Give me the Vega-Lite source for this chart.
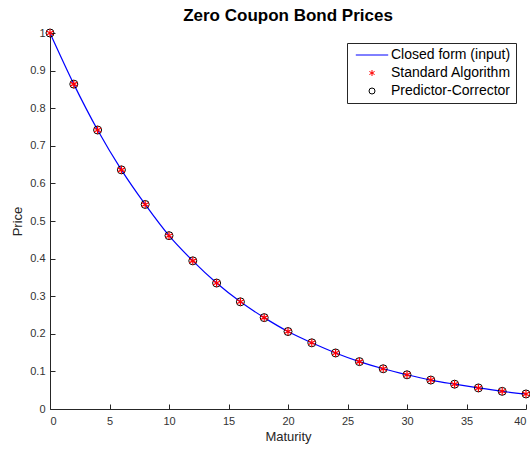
{
  "$schema": "https://vega.github.io/schema/vega-lite/v6.json",
  "autosize": "none",
  "width": 476,
  "height": 376,
  "padding": {"left": 50, "top": 33, "right": 4, "bottom": 41},
  "background": "white",
  "config": {
    "font": "Liberation Sans",
    "view": {"stroke": null},
    "legend": {"symbolFillColor": "transparent"},
    "axis": {
      "domainColor": "#262626",
      "tickColor": "#262626",
      "labelColor": "#333333",
      "titleColor": "#262626",
      "labelFontSize": 11,
      "titleFontSize": 13,
      "titleFontWeight": "normal",
      "grid": false,
      "tickSize": -5,
      "domainWidth": 1
    }
  },
  "title": {
    "text": "Zero Coupon Bond Prices",
    "fontSize": 17,
    "fontWeight": "bold",
    "color": "#000000",
    "anchor": "middle",
    "frame": "group",
    "baseline": "alphabetic",
    "offset": 10,
    "dy": 21
  },
  "data": {
    "values": [
      {"maturity": 0, "price": 1.000, "method": "Closed form (input)"},
      {"maturity": 2, "price": 0.864, "method": "Closed form (input)"},
      {"maturity": 4, "price": 0.742, "method": "Closed form (input)"},
      {"maturity": 6, "price": 0.636, "method": "Closed form (input)"},
      {"maturity": 8, "price": 0.544, "method": "Closed form (input)"},
      {"maturity": 10, "price": 0.461, "method": "Closed form (input)"},
      {"maturity": 12, "price": 0.394, "method": "Closed form (input)"},
      {"maturity": 14, "price": 0.335, "method": "Closed form (input)"},
      {"maturity": 16, "price": 0.285, "method": "Closed form (input)"},
      {"maturity": 18, "price": 0.243, "method": "Closed form (input)"},
      {"maturity": 20, "price": 0.206, "method": "Closed form (input)"},
      {"maturity": 22, "price": 0.176, "method": "Closed form (input)"},
      {"maturity": 24, "price": 0.149, "method": "Closed form (input)"},
      {"maturity": 26, "price": 0.126, "method": "Closed form (input)"},
      {"maturity": 28, "price": 0.107, "method": "Closed form (input)"},
      {"maturity": 30, "price": 0.091, "method": "Closed form (input)"},
      {"maturity": 32, "price": 0.077, "method": "Closed form (input)"},
      {"maturity": 34, "price": 0.066, "method": "Closed form (input)"},
      {"maturity": 36, "price": 0.056, "method": "Closed form (input)"},
      {"maturity": 38, "price": 0.047, "method": "Closed form (input)"},
      {"maturity": 40, "price": 0.040, "method": "Closed form (input)"},
      {"maturity": 0, "price": 1.000, "method": "Standard Algorithm"},
      {"maturity": 2, "price": 0.864, "method": "Standard Algorithm"},
      {"maturity": 4, "price": 0.742, "method": "Standard Algorithm"},
      {"maturity": 6, "price": 0.636, "method": "Standard Algorithm"},
      {"maturity": 8, "price": 0.544, "method": "Standard Algorithm"},
      {"maturity": 10, "price": 0.461, "method": "Standard Algorithm"},
      {"maturity": 12, "price": 0.394, "method": "Standard Algorithm"},
      {"maturity": 14, "price": 0.335, "method": "Standard Algorithm"},
      {"maturity": 16, "price": 0.285, "method": "Standard Algorithm"},
      {"maturity": 18, "price": 0.243, "method": "Standard Algorithm"},
      {"maturity": 20, "price": 0.206, "method": "Standard Algorithm"},
      {"maturity": 22, "price": 0.176, "method": "Standard Algorithm"},
      {"maturity": 24, "price": 0.149, "method": "Standard Algorithm"},
      {"maturity": 26, "price": 0.126, "method": "Standard Algorithm"},
      {"maturity": 28, "price": 0.107, "method": "Standard Algorithm"},
      {"maturity": 30, "price": 0.091, "method": "Standard Algorithm"},
      {"maturity": 32, "price": 0.077, "method": "Standard Algorithm"},
      {"maturity": 34, "price": 0.066, "method": "Standard Algorithm"},
      {"maturity": 36, "price": 0.056, "method": "Standard Algorithm"},
      {"maturity": 38, "price": 0.047, "method": "Standard Algorithm"},
      {"maturity": 40, "price": 0.040, "method": "Standard Algorithm"},
      {"maturity": 0, "price": 1.000, "method": "Predictor-Corrector"},
      {"maturity": 2, "price": 0.864, "method": "Predictor-Corrector"},
      {"maturity": 4, "price": 0.742, "method": "Predictor-Corrector"},
      {"maturity": 6, "price": 0.636, "method": "Predictor-Corrector"},
      {"maturity": 8, "price": 0.544, "method": "Predictor-Corrector"},
      {"maturity": 10, "price": 0.461, "method": "Predictor-Corrector"},
      {"maturity": 12, "price": 0.394, "method": "Predictor-Corrector"},
      {"maturity": 14, "price": 0.335, "method": "Predictor-Corrector"},
      {"maturity": 16, "price": 0.285, "method": "Predictor-Corrector"},
      {"maturity": 18, "price": 0.243, "method": "Predictor-Corrector"},
      {"maturity": 20, "price": 0.206, "method": "Predictor-Corrector"},
      {"maturity": 22, "price": 0.176, "method": "Predictor-Corrector"},
      {"maturity": 24, "price": 0.149, "method": "Predictor-Corrector"},
      {"maturity": 26, "price": 0.126, "method": "Predictor-Corrector"},
      {"maturity": 28, "price": 0.107, "method": "Predictor-Corrector"},
      {"maturity": 30, "price": 0.091, "method": "Predictor-Corrector"},
      {"maturity": 32, "price": 0.077, "method": "Predictor-Corrector"},
      {"maturity": 34, "price": 0.066, "method": "Predictor-Corrector"},
      {"maturity": 36, "price": 0.056, "method": "Predictor-Corrector"},
      {"maturity": 38, "price": 0.047, "method": "Predictor-Corrector"},
      {"maturity": 40, "price": 0.040, "method": "Predictor-Corrector"}
    ]
  },
  "encoding": {
    "x": {
      "field": "maturity",
      "type": "quantitative",
      "scale": {"domain": [0, 40], "nice": false},
      "axis": {"title": "Maturity", "values": [0, 5, 10, 15, 20, 25, 30, 35, 40], "labelPadding": 11, "titlePadding": 4}
    },
    "y": {
      "field": "price",
      "type": "quantitative",
      "scale": {"domain": [0, 1], "nice": false},
      "axis": {"title": "Price", "values": [0, 0.1, 0.2, 0.3, 0.4, 0.5, 0.6, 0.7, 0.8, 0.9, 1], "format": "~g", "labelPadding": 10, "titlePadding": 5}
    },
    "color": {
      "field": "method",
      "type": "nominal",
      "scale": {
        "domain": ["Closed form (input)", "Standard Algorithm", "Predictor-Corrector"],
        "range": ["#0000ff", "#ff0000", "#000000"]
      },
      "legend": {
        "title": null,
        "orient": "top-right",
        "offset": 10,
        "strokeColor": "#262626",
        "fillColor": "white",
        "padding": 5,
        "labelFontSize": 14,
        "labelColor": "#000000",
        "symbolSize": 36,
        "symbolStrokeWidth": 1,
        "symbolFillColor": "transparent",
        "symbolOffset": 13,
        "labelOffset": 12,
        "rowPadding": 4,
        "cornerRadius": 0,
        "encode": {"symbols": {"update": {"fill": {"value": "transparent"}, "fillOpacity": {"value": 0}}}}
      }
    }
  },
  "layer": [
    {
      "transform": [{"filter": "datum.method === 'Closed form (input)'"}],
      "mark": {"type": "line", "strokeWidth": 1.2, "interpolate": "monotone"},
      "encoding": {
        "shape": {
          "field": "method",
          "type": "nominal",
          "scale": {
            "domain": ["Closed form (input)", "Standard Algorithm", "Predictor-Corrector"],
            "range": ["M-5.4,0L5.4,0", "M0,-1L0,1M-0.87,-0.5L0.87,0.5M-0.87,0.5L0.87,-0.5", "circle"]
          }
        }
      }
    },
    {
      "transform": [{"filter": "datum.method === 'Predictor-Corrector'"}],
      "mark": {"type": "point", "filled": false, "strokeWidth": 1, "size": 64, "opacity": 1},
      "encoding": {
        "shape": {"field": "method", "type": "nominal"}
      }
    },
    {
      "transform": [{"filter": "datum.method === 'Standard Algorithm'"}],
      "mark": {"type": "point", "filled": false, "strokeWidth": 1.2, "size": 64, "opacity": 1},
      "encoding": {
        "shape": {"field": "method", "type": "nominal"}
      }
    }
  ]
}
